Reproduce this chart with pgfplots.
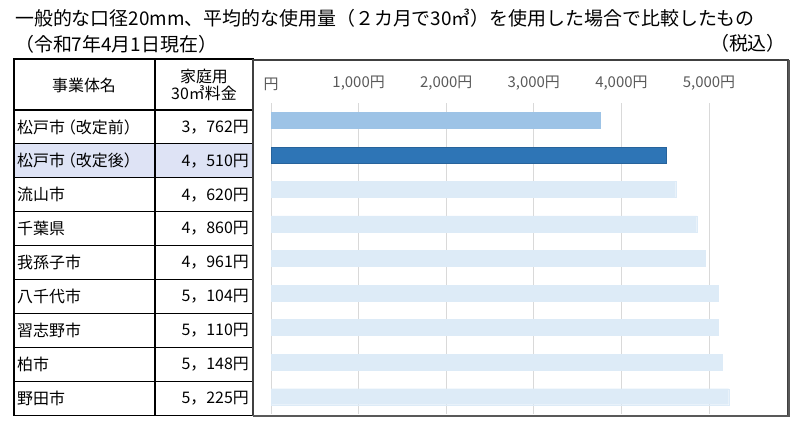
\documentclass[border=0pt]{standalone}
\usepackage{pgfplots}
\pgfplotsset{compat=1.18}
\usepackage{fontspec}
\setmainfont{Noto Sans CJK JP}
\definecolor{barA}{HTML}{9DC3E6}
\definecolor{barB}{HTML}{2E75B6}
\definecolor{barC}{HTML}{DDEBF7}
\definecolor{gridc}{HTML}{D9D9D9}
\definecolor{tickc}{HTML}{595959}
\definecolor{rowhl}{HTML}{DEE3F5}
\begin{document}
\begin{tikzpicture}[x=1bp,y=1bp]
\useasboundingbox (0,0) rectangle (800,424);
% titles
\node[anchor=west, inner sep=0, font=\fontsize{19}{21}\selectfont] at (15,406) {一般的な口径20mm、平均的な使用量（２カ月で30㎥）を使用した場合で比較したもの};
\node[anchor=west, inner sep=0, font=\fontsize{19}{21}\selectfont] at (15,380) {（令和7年4月1日現在）};
\node[anchor=east, inner sep=0, font=\fontsize{19}{21}\selectfont] at (786,381) {（税込）};
% table
\fill[rowhl] (14,280.1) rectangle (253,246.2);
\foreach \i in {0,...,9} {\draw[line width=1.1bp] (14,{314-\i*33.9}) -- (253,{314-\i*33.9});}
\draw[line width=1.2bp] (14,365) rectangle (253,8.9);
\draw[line width=1.1bp] (155,365) -- (155,8.9);
\node[font=\fontsize{16}{18}\selectfont] at (84,339) {事業体名};
\node[font=\fontsize{16}{17}\selectfont, align=center] at (204,339) {家庭用\\30㎥料金};
\foreach \k/\nm/\vl in {0/松戸市\kern-5bp（改定前）/3，762円, 1/松戸市\kern-5bp（改定後）/4，510円, 2/流山市/4，620円, 3/千葉県/4，860円, 4/我孫子市/4，961円, 5/八千代市/5，104円, 6/習志野市/5，110円, 7/柏市/5，148円, 8/野田市/5，225円} {
  \node[anchor=west, inner sep=0, font=\fontsize{16}{18}\selectfont] at (17,{314-(\k+0.5)*33.9}) {\nm};
  \node[anchor=east, inner sep=0, font=\fontsize{16}{18}\selectfont] at (249,{314-(\k+0.5)*33.9}) {\vl};
}
% chart box
\draw[black!75, line width=1.2bp] (253,364) rectangle (788,8.5);
\draw[black!65, line width=2bp] (253,8.5) -- (788.5,8.5) -- (788.5,364);
\begin{axis}[
  at={(271bp,10bp)}, anchor=south west,
  scale only axis, width=517bp, height=311bp,
  xmin=0, xmax=5902, ymin=-0.5, ymax=8.5, y dir=reverse,
  xbar, bar width=16bp,
  axis line style={draw=none},
  major tick length=0pt,
  ytick=\empty,
  xtick={0,1000,2000,3000,4000,5000},
  xticklabels={円,{1,000円},{2,000円},{3,000円},{4,000円},{5,000円}},
  xticklabel pos=upper,
  xticklabel style={text=tickc, font=\fontsize{15}{16}\selectfont, yshift=9bp},
  xmajorgrids, grid style={gridc, line width=0.9bp},
  clip=false,
]
\addplot[xbar, bar shift=0pt, fill=barA, draw=barA] coordinates {(3762,0)};
\addplot[xbar, bar shift=0pt, fill=barB, draw=barB!85!black] coordinates {(4510,1)};
\addplot[xbar, bar shift=0pt, fill=barC, draw=barC] coordinates {(4620,2) (4860,3) (4961,4) (5104,5) (5110,6) (5148,7) (5225,8)};
\end{axis}
\end{tikzpicture}
\end{document}
